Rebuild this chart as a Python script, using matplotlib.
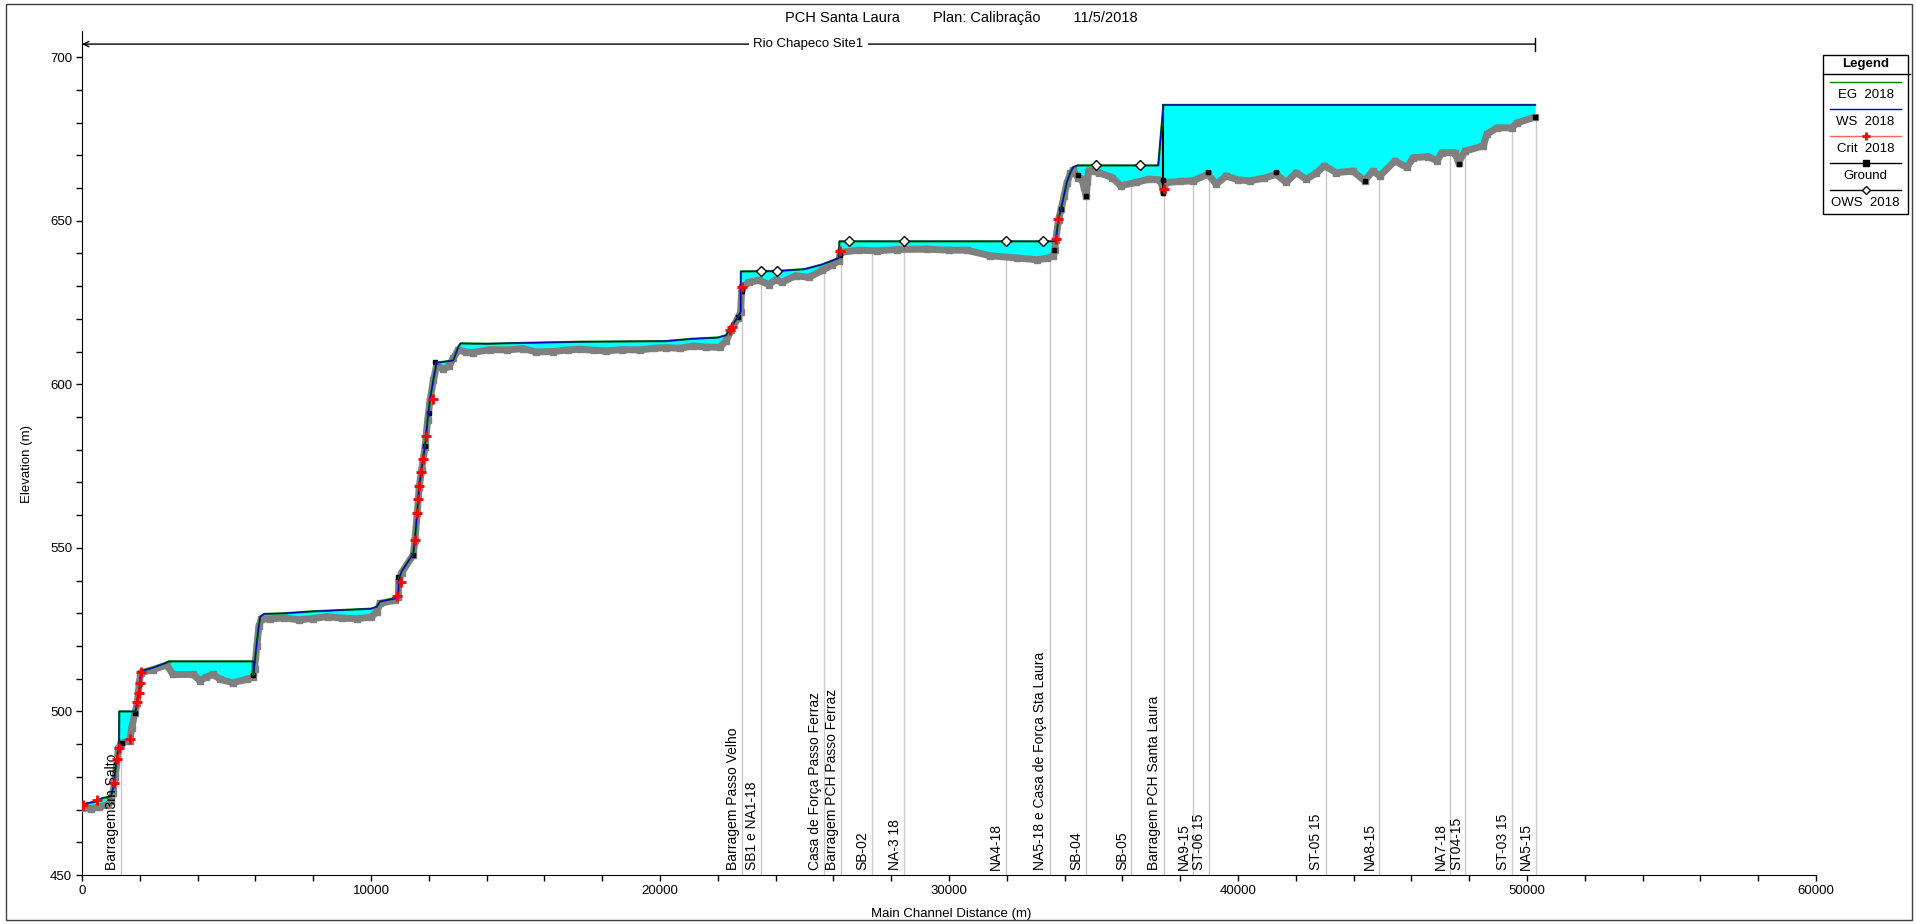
import numpy as np
import matplotlib.pyplot as plt
from matplotlib.patches import Rectangle
from matplotlib.lines import Line2D

plt.rcParams['font.family'] = ['Liberation Sans', 'DejaVu Sans']
plt.rcParams['font.size'] = 9.5

# Ground profile (main channel distance m, elevation m)
ground_x = [0, 300, 600, 900, 1000, 1070, 1150, 1260, 1350, 1660, 1720, 1830, 1915, 1985, 2030,
            2460, 2930, 3150, 3850, 4080, 4300, 4540, 4780, 5220, 5700, 5930, 5970, 6050, 6120, 6200,
            6500, 7000, 7500, 8000, 8500, 9000, 9500, 10000, 10200, 10310, 10830, 10945, 10960, 11060,
            11465, 11520, 11600, 11670, 11750, 11870, 11960, 12040, 12160, 12270, 12500, 12700, 12840,
            13020, 13300, 13520, 14110, 14700, 15260, 15720, 16300, 16800, 17220, 17700, 18140, 18700,
            19300, 19800, 20220, 20680, 21140, 21600, 22060, 22290, 22460, 22700, 22790, 22830, 23080,
            23420, 23770, 24000, 24230, 24690, 25150, 25610, 25960, 26190, 26240, 26870, 27500, 28200,
            29230, 30000, 30610, 31420, 32340, 33030, 33400, 33610, 33660, 33690, 33790, 33880, 33980,
            34080, 34200, 34300, 34450, 34600, 34670, 34750, 34790, 34830, 35190, 35650, 35940, 36460,
            36920, 37300, 37420, 37520, 38000, 38440, 38960, 39250, 39590, 40000, 40400, 40900, 41320,
            41670, 42010, 42360, 42700, 42990, 43400, 43970, 44380, 44660, 44910, 45430, 45840, 46070,
            46590, 46880, 47050, 47510, 47630, 47860, 48490, 48610, 48950, 49470, 49650, 50280]
ground_y = [470.5, 470.3, 470.8, 471.5, 472.5, 475.0, 480.0, 488.5, 490.3, 491.0, 495.0, 499.5, 502.7, 508.8, 511.8,
            512.8, 514.2, 511.3, 511.3, 509.4, 510.5, 511.3, 509.8, 508.8, 509.8, 510.5, 513.0, 520.0, 526.0, 528.2,
            528.3, 528.6, 528.0, 528.4, 529.0, 528.5, 528.4, 528.8, 530.5, 533.0, 534.0, 535.0, 540.0, 542.4,
            547.9, 552.4, 560.6, 568.7, 573.8, 580.9, 589.0, 595.0, 601.2, 605.8, 604.6, 605.5, 607.9,
            610.5, 609.8, 609.7, 610.6, 610.5, 610.9, 609.9, 610.0, 610.5, 610.7, 610.4, 610.2, 610.6,
            610.5, 611.0, 611.2, 611.0, 611.7, 611.4, 611.3, 613.3, 616.5, 620.3, 622.0, 629.6, 631.2,
            631.8, 630.5, 632.0, 631.2, 633.2, 632.7, 634.8, 636.5, 637.8, 640.3, 641.0, 640.8, 641.2,
            641.3, 641.0, 641.0, 639.3, 638.6, 638.1, 638.5, 639.3, 641.0, 644.0, 650.3, 653.5, 657.5,
            661.5, 664.5, 665.5, 663.2, 662.8, 660.2, 657.6, 661.7, 665.3, 664.7, 663.2, 660.7, 661.7,
            662.7, 662.5, 659.5, 661.7, 662.0, 662.2, 664.2, 661.2, 663.7, 662.5, 662.2, 663.0, 664.2,
            661.7, 664.7, 662.7, 664.5, 666.8, 664.7, 665.2, 662.2, 665.2, 663.7, 668.3, 666.3, 669.3,
            669.6, 668.3, 670.8, 670.8, 667.8, 671.3, 672.9, 676.4, 678.4, 678.4, 679.9, 681.7]

# Water surface 2018
ws_x = [0, 500, 700, 1000, 1100, 1200, 1280, 1290, 1860, 1875, 1915, 1970, 2010, 2040, 2400, 2900, 3000,
        5930, 5935, 6000, 6100, 6170, 6300, 7000, 8000, 9000, 10000, 10200, 10310, 10830, 10945, 10960,
        11060, 11465, 11520, 11600, 11670, 11750, 11870, 11960, 12040, 12160, 12270, 12850, 13020, 13100,
        14000, 15000, 17200, 20200, 21100, 22000, 22290, 22460, 22700, 22790, 22800, 24000, 25000, 25600,
        26190, 26210, 33670, 33700, 33790, 33880, 33980, 34080, 34200, 34300, 34450, 37240, 37420, 50280]
ws_y = [471.6, 472.5, 473.5, 474.0, 477.5, 485.5, 489.2, 500.0, 500.0, 501.3, 503.0, 506.0, 509.0, 512.3, 513.2, 514.8, 515.3,
        515.3, 511.2, 517.0, 525.0, 529.0, 529.8, 530.0, 530.6, 531.0, 531.4, 532.0, 533.6, 534.5, 535.3, 540.4,
        542.8, 548.3, 552.8, 561.0, 569.0, 574.1, 581.2, 589.3, 595.3, 601.5, 606.6, 607.3, 611.5, 612.5,
        612.4, 612.6, 613.0, 613.2, 613.9, 614.3, 615.0, 617.5, 620.7, 622.2, 634.5, 634.6, 635.2, 636.6,
        638.6, 643.7, 643.7, 644.4, 650.6, 653.8, 657.8, 661.8, 664.8, 666.4, 666.9, 666.9, 685.4, 685.4]

# Critical depth points (red +)
crit_x = [45, 510, 1110, 1200, 1290, 1660, 1915, 1970, 2010, 2040, 10890, 11030, 11520, 11600, 11640, 11670,
          11730, 11810, 11900, 12130, 22420, 22480, 22830, 26240, 33690, 33780, 37450]
crit_y = [471.3, 472.9, 478.2, 485.4, 488.9, 491.5, 502.8, 505.7, 508.7, 512.0, 535.2, 539.7, 552.4, 560.8, 564.9, 568.9,
          573.3, 577.3, 584.1, 595.6, 616.5, 617.4, 629.8, 640.6, 644.4, 650.5, 659.6]

# Dark square points on the ground
blk_x = [1370, 1830, 5930, 10945, 11465, 11870, 11990, 12220, 22700, 22830, 26240, 33640, 33880, 34470, 34750,
         37420, 37420, 38960, 41320, 44380, 47630, 50290]
blk_y = [490.2, 499.5, 511.0, 541.0, 547.9, 581.0, 591.2, 606.8, 620.5, 628.5, 639.5, 641.0, 653.5, 664.0, 657.6,
         662.5, 658.5, 665.0, 665.0, 662.0, 667.3, 681.7]

# Observed water surface 2018
ows_x = [23490, 24060, 26540, 28440, 31960, 33260, 35090, 36610]
ows_y = [634.6, 634.6, 643.8, 643.8, 643.8, 643.8, 667.0, 667.0]

# Inline structure (Santa Laura dam)
struct_x = [37420]
struct_top = [685.4]

# Labelled stations
stations = [1350, 22850, 23500, 25670, 26270, 27320, 28440, 31960, 33480, 34740, 36310, 37430,
            38440, 38990, 43030, 44870, 47340, 47870, 49490, 50300]
station_names = ["Barragem3m Salto", "Barragem Passo Velho", "SB1 e NA1-18", "Casa de Força Passo Ferraz",
                 "Barragem PCH Passo Ferraz", "SB-02", "NA-3 18", "NA4-18", "NA5-18 e Casa de Força Sta Laura",
                 "SB-04", "SB-05", "Barragem PCH Santa Laura", "NA9-15", "ST-06 15", "ST-05 15", "NA8-15",
                 "NA7-18", "ST04-15", "ST-03 15", "NA5-15"]

reach_start, reach_end = 0, 50280
reach_name = "Rio Chapeco Site1"

W, H = 1916, 924
fig = plt.figure(figsize=(W / 100, H / 100), dpi=100)
ax = fig.add_axes([82 / W, 49 / H, 1734 / W, 844 / H])

# station lines up to the ground
st_ground = np.interp(stations, ground_x, ground_y)
for sx, gy, name in zip(stations, st_ground, station_names):
    ax.plot([sx, sx], [450, gy], color='#c8c8c8', lw=1, zorder=1)
    ax.text(sx - 80, 451.5, name, rotation=90, ha='right', va='bottom', fontsize=10, zorder=6)

# water between ground and WS
poly_x = np.concatenate([ws_x, ground_x[::-1]])
poly_y = np.concatenate([ws_y, ground_y[::-1]])
ax.fill(poly_x, poly_y, color='#00ffff', lw=0, zorder=2)

ax.plot(ground_x, ground_y, color='#808080', lw=5, marker='s', ms=5, solid_capstyle='butt', zorder=3)
ax.plot(blk_x, blk_y, ls='none', marker='s', ms=3.5, color='black', zorder=4)
gtop = np.interp(struct_x, ground_x, ground_y)
for sx, top, gy in zip(struct_x, struct_top, gtop):
    ax.plot([sx, sx], [gy, top], color='black', lw=1.5, zorder=4)

ax.plot(ws_x, ws_y, color='#008000', lw=1.6, zorder=5)   # EG coincides with WS at this scale
ax.plot(ws_x, ws_y, color='#0000cc', lw=0.9, zorder=5)
ax.plot(crit_x, crit_y, ls='none', marker='+', ms=7, mew=2, color='red', zorder=6)
ax.plot(ows_x, ows_y, ls='none', marker='D', ms=5, mfc='white', mec='black', mew=1, zorder=7)

# reach arrow
ay = 704
ax.annotate('', xy=(reach_start, ay), xytext=(reach_end, ay),
            arrowprops=dict(arrowstyle='->', lw=1, color='black', shrinkA=0, shrinkB=0))
ax.plot([reach_end, reach_end], [ay - 2, ay + 2], color='black', lw=1)
ax.text((reach_start + reach_end) / 2, ay, reach_name, ha='center', va='center', fontsize=9.5,
        bbox=dict(fc='white', ec='none', pad=3))

ax.set_xlim(0, 60000)
ax.set_ylim(450, 708)
ax.set_xticks(np.arange(0, 60001, 10000))
ax.set_xticks(np.arange(0, 60001, 2000), minor=True)
ax.set_yticks(np.arange(450, 701, 50))
ax.set_yticks(np.arange(450, 708, 10), minor=True)
ax.tick_params(which='both', direction='out', length=4, width=1, pad=3, labelsize=9.5)
for s in ['top', 'right']:
    ax.spines[s].set_visible(False)

fig.text(951 / W, 1 - 914 / H, 'Main Channel Distance (m)', ha='center', va='center', fontsize=9.5)
fig.text(27 / W, 1 - 464 / H, 'Elevation (m)', ha='center', va='center', rotation=90, fontsize=9.5)
fig.text(961 / W, 1 - 18 / H, 'PCH Santa Laura        Plan: Calibração        11/5/2018',
         ha='center', va='center', fontsize=10.5)

# outer frame
fig.add_artist(Rectangle((6 / W, 4 / H), 1906 / W, 916 / H, transform=fig.transFigure,
                         fill=False, ec='#404040', lw=1))


def fx(px):
    return px / W


def fy(py):
    return 1 - py / H


# legend box
lx0, lx1 = 1823, 1908
fig.add_artist(Rectangle((fx(lx0), fy(214)), (lx1 - lx0) / W, 159 / H, transform=fig.transFigure,
                         fill=False, ec='black', lw=1))
fig.text(fx((lx0 + lx1) / 2), fy(64), 'Legend', ha='center', va='center', fontsize=9.5, weight='bold')
fig.add_artist(Line2D([fx(lx0), fx(lx1 + 2)], [fy(74), fy(74)], color='black', lw=1))
legend_items = [
    ('EG  2018', dict(color='#008000', lw=1)),
    ('WS  2018', dict(color='#0000cc', lw=1)),
    ('Crit  2018', dict(color='#ff6060', lw=1, marker='+', ms=6, mew=2, mec='red')),
    ('Ground', dict(color='black', lw=1, marker='s', ms=5)),
    ('OWS  2018', dict(color='black', lw=1, marker='D', ms=4, mfc='white', mec='black')),
]
for i, (lab, st) in enumerate(legend_items):
    ly = 82 + 27 * i
    fig.add_artist(Line2D([fx(lx0 + 7), fx(lx0 + 42.5), fx(lx1 - 7)], [fy(ly)] * 3,
                          markevery=[1], **st))
    fig.text(fx((lx0 + lx1) / 2), fy(ly + 13), lab, ha='center', va='center', fontsize=9.5)

fig.savefig('out.png', dpi=100)
